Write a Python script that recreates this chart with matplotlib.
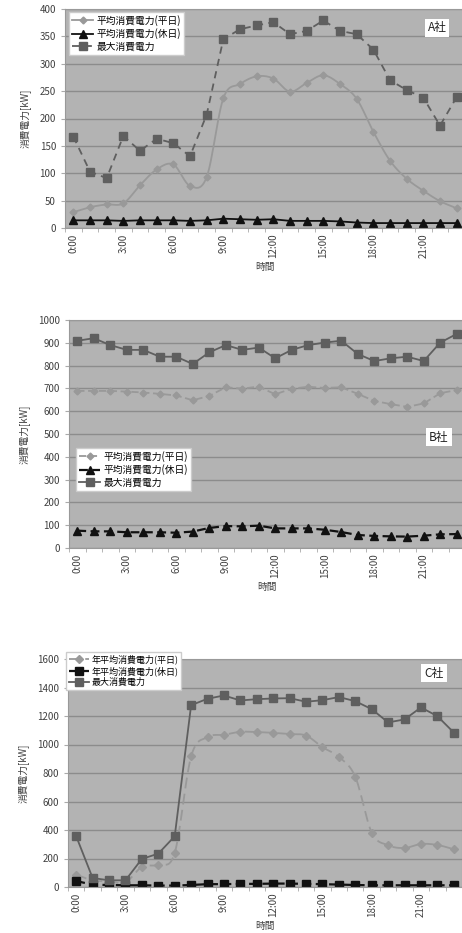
import matplotlib
matplotlib.use("Agg")
import matplotlib.pyplot as plt
from matplotlib.lines import Line2D
import numpy as np

plt.rcParams['font.family'] = ['Noto Sans CJK JP', 'DejaVu Sans']

hours = [f"{h}:00" for h in range(24)]

# A社
a_weekday = [29, 38, 43, 45, 78, 107, 116, 77, 93, 237, 263, 277, 273, 249, 265, 279, 263, 236, 176, 123, 90, 68, 49, 36]
a_holiday = [14, 14, 14, 13, 14, 14, 14, 13, 14, 17, 16, 15, 16, 13, 13, 13, 12, 10, 9, 9, 9, 9, 9, 9]
a_peak = [167, 103, 91, 168, 141, 163, 155, 131, 207, 345, 363, 370, 376, 354, 360, 379, 360, 354, 326, 270, 252, 238, 187, 239]

# B社
b_weekday = [689, 689, 689, 686, 682, 676, 669, 648, 667, 705, 699, 708, 674, 699, 707, 702, 705, 676, 645, 631, 619, 634, 679, 693]
b_holiday = [76, 73, 73, 69, 69, 69, 67, 72, 88, 96, 95, 98, 86, 86, 86, 80, 70, 57, 53, 51, 50, 54, 60, 61]
b_peak = [909, 920, 890, 869, 869, 839, 839, 807, 858, 890, 869, 879, 832, 869, 890, 901, 909, 851, 820, 832, 839, 820, 901, 939]

# C社
c_weekday = [87, 47, 40, 33, 141, 157, 239, 916, 1052, 1068, 1089, 1087, 1082, 1073, 1063, 981, 913, 773, 382, 293, 274, 302, 295, 265]
c_holiday = [42, 16, 14, 12, 12, 10, 10, 14, 20, 20, 22, 22, 24, 24, 22, 20, 17, 14, 12, 12, 12, 12, 12, 12]
c_peak = [356, 63, 47, 47, 197, 234, 356, 1276, 1321, 1344, 1309, 1318, 1323, 1325, 1300, 1311, 1333, 1304, 1248, 1155, 1176, 1260, 1199, 1084]

lab_wd = "平均消費電力(平日)"
lab_hd = "平均消費電力(休日)"
lab_pk = "最大消費電力"
lab_wd_c = "年平均消費電力(平日)"
lab_hd_c = "年平均消費電力(休日)"

BG = "#b3b3b3"
GRID = "#8c8c8c"
LIGHT = "#999999"
DARK = "#5f5f5f"
TXT = "#404040"

fig = plt.figure(figsize=(4.62, 9.33), dpi=100)
fig.patch.set_facecolor("white")

x = list(range(24))


def smooth_path(xs, ys, steps=12):
    """Catmull-Rom curve through the points, like a spreadsheet's smoothed line."""
    xs = np.asarray(xs, float)
    ys = np.asarray(ys, float)
    px = np.concatenate([[2 * xs[0] - xs[1]], xs, [2 * xs[-1] - xs[-2]]])
    py = np.concatenate([[2 * ys[0] - ys[1]], ys, [2 * ys[-1] - ys[-2]]])
    outx, outy = [], []
    t = np.linspace(0, 1, steps, endpoint=False)
    for i in range(1, len(px) - 2):
        for p, out in ((px, outx), (py, outy)):
            p0, p1, p2, p3 = p[i - 1], p[i], p[i + 1], p[i + 2]
            out.extend(0.5 * (2 * p1 + (-p0 + p2) * t + (2 * p0 - 5 * p1 + 4 * p2 - p3) * t ** 2
                              + (-p0 + 3 * p1 - 3 * p2 + p3) * t ** 3))
    outx.append(xs[-1])
    outy.append(ys[-1])
    return outx, outy


def smooth_series(ax, ys, label, color, lw, ls, marker, ms):
    sx, sy = smooth_path(x, ys)
    ax.plot(sx, sy, color=color, lw=lw, ls=ls)
    ax.plot(x, ys, ls="none", marker=marker, ms=ms, mfc=color, mec=color)
    return Line2D([], [], color=color, lw=lw, ls=ls, marker=marker, ms=ms, mfc=color, mec=color, label=label)


def setup(ax, ymax, ystep, company, boxpos):
    ax.set_facecolor(BG)
    ax.set_xlim(-0.5, 23.5)
    ax.set_ylim(0, ymax)
    ax.set_yticks(range(0, ymax + 1, ystep))
    ax.yaxis.grid(True, color=GRID, lw=1.0)
    ax.set_axisbelow(True)
    ax.set_xticks(range(0, 24, 3))
    ax.set_xticklabels([hours[i] for i in range(0, 24, 3)], rotation=90)
    ax.set_xticks([i - 0.5 for i in range(25)], minor=True)
    ax.tick_params(axis='x', which='major', length=0, labelsize=7, colors=TXT, pad=4)
    ax.tick_params(axis='x', which='minor', length=3, color="#aaaaaa")
    ax.tick_params(axis='y', length=3, labelsize=7, colors=TXT, color="#aaaaaa")
    for s in ax.spines.values():
        s.set_color("#999999")
        s.set_linewidth(0.8)
    ax.set_xlabel("時間", fontsize=7, color=TXT, labelpad=3)
    ax.set_ylabel("消費電力[kW]", fontsize=7, color=TXT, labelpad=6)
    ax.text(boxpos[0], boxpos[1], company, transform=fig.transFigure, fontsize=8.5,
            color="#222222", ha="center", va="center",
            bbox=dict(boxstyle="square,pad=0.25", fc="white", ec="none"))


leg_kw = dict(frameon=True, fancybox=False, edgecolor="#cccccc", framealpha=1,
              borderpad=0.3, handlelength=2.2, handletextpad=0.3, borderaxespad=0)

# ---- A社 ----
axA = fig.add_axes([65 / 462, 1 - 228 / 933, 400 / 462, 219 / 933])
setup(axA, 400, 50, "A社", (437 / 462, 1 - 28 / 933))
hA1 = smooth_series(axA, a_weekday, lab_wd, LIGHT, 1.3, "-", "D", 3.5)
hA2, = axA.plot(x, a_holiday, color="#111111", lw=1.3, marker="^", ms=5.5, mfc="#111111", mec="#111111", label=lab_hd)
hA3, = axA.plot(x, a_peak, color=DARK, lw=1.3, ls=(0, (4, 3)), marker="s", ms=5.5, mfc=DARK, mec=DARK, label=lab_pk)
axA.legend(handles=[hA1, hA2, hA3], loc="upper left", bbox_to_anchor=(69 / 462, 1 - 12 / 933),
           bbox_transform=fig.transFigure, fontsize=7, labelspacing=0.25, **leg_kw)

# ---- B社 ----
axB = fig.add_axes([69 / 462, 1 - 548 / 933, 396 / 462, 228 / 933])
setup(axB, 1000, 100, "B社", (439 / 462, 1 - 437 / 933))
axB.plot(x, b_weekday, color=LIGHT, lw=1.3, ls=(0, (4, 2)), marker="D", ms=3.5, mfc=LIGHT, mec=LIGHT, label=lab_wd)
axB.plot(x, b_holiday, color="#111111", lw=1.6, ls=(0, (4, 2)), marker="^", ms=6, mfc="#111111", mec="#111111", label=lab_hd)
axB.plot(x, b_peak, color=DARK, lw=1.3, marker="s", ms=6, mfc=DARK, mec=DARK, label=lab_pk)
axB.legend(loc="upper left", bbox_to_anchor=(76 / 462, 1 - 448 / 933), bbox_transform=fig.transFigure,
           fontsize=7, labelspacing=0.25, **leg_kw)

# ---- C社 ----
axC = fig.add_axes([68 / 462, 1 - 887 / 933, 394 / 462, 228 / 933])
setup(axC, 1600, 200, "C社", (434 / 462, 1 - 673 / 933))
hC1 = smooth_series(axC, c_weekday, lab_wd_c, LIGHT, 1.3, (0, (6, 3)), "D", 4)
hC2, = axC.plot(x, c_holiday, color="#111111", lw=1.6, ls=(0, (4, 2)), marker="s", ms=6, mfc="#111111", mec="#111111", label=lab_hd_c)
hC3, = axC.plot(x, c_peak, color=DARK, lw=1.3, marker="s", ms=6, mfc=DARK, mec=DARK, label=lab_pk)
legC = axC.legend(handles=[hC1, hC2, hC3], loc="upper left", bbox_to_anchor=(66 / 462, 1 - 652 / 933),
                  bbox_transform=fig.transFigure, fontsize=6.5, labelspacing=0.2, **leg_kw)
legC.set_zorder(10)

fig.savefig("out.png", dpi=100, facecolor="white")
